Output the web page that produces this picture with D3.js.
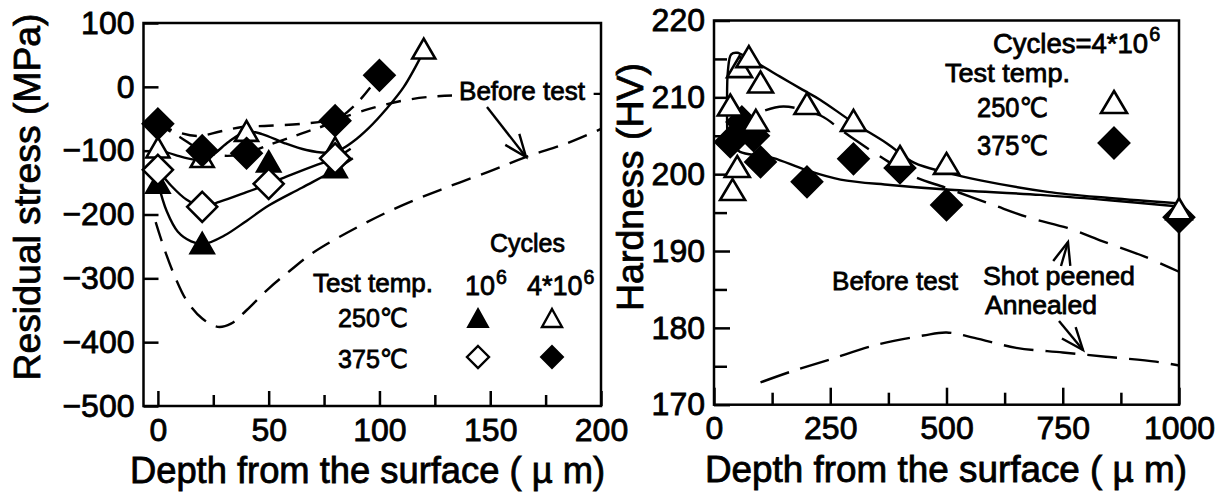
<!DOCTYPE html>
<html>
<head>
<meta charset="utf-8">
<script src="https://cdn.jsdelivr.net/npm/d3@7"></script>
<style>
  body { margin: 0; background: #fff; }
  svg text { font-family: "Liberation Sans", "DejaVu Sans", Arial, sans-serif; fill: #000; }
</style>
</head>
<body>
<svg id="chart" width="1229" height="492"></svg>
<script>
// ---- data ----
// left panel: residual stress (MPa) vs depth (um)
const stressTicks = [100, 0, -100, -200, -300, -400, -500];
const depthTicksL = [0, 50, 100, 150, 200];
const depthMinorL = [25, 75, 125, 175];

const tri250_1e6 = [[0, -150], [20, -245], [50, -117], [80, -126]];
const tri250_4e6 = [[0, -95], [20, -110], [40, -69], [80, -95], [120, 60]];
const dia375_1e6 = [[0, -130], [20, -188], [50, -152], [80, -112]];
const dia375_4e6 = [[0, -58], [20, -100], [40, -104], [80, -53], [100, 18]];

// fitted curves
const fitTri1e6 = [[0, -150], [4, -195], [9, -227], [15, -242], [21, -246], [30, -233], [40, -210], [50, -186], [65, -158], [80, -130], [88, -112]];
const fitTri4e6 = [[0, -97], [8, -107], [17, -114], [24, -108], [32, -86], [40, -70], [47, -74], [57, -88], [67, -99], [76, -103], [82, -99], [88, -86], [95, -65], [103, -35], [111, 0], [120, 56]];
const fitDia1e6 = [[0, -130], [6, -155], [13, -177], [20, -188], [28, -180], [40, -165], [50, -152], [60, -138], [72, -122], [80, -112], [87, -97]];
const fitDia4e6 = [[0, -58], [10, -79], [20, -100], [30, -108], [40, -104], [50, -91], [65, -73], [80, -53], [90, -25], [100, 18]];
const fitUpper = [[0, -58], [8, -70], [18, -77], [28, -70], [38, -63], [50, -61], [65, -58], [80, -51], [95, -35], [110, -22], [125, -15], [160, -12], [200, -11]];
const beforeL = [[-1, -212], [3, -255], [8, -300], [13, -335], [20, -363], [27, -376], [33, -371], [40, -350], [50, -316], [60, -287], [70, -260], [90, -220], [110, -186], [130, -158], [150, -132], [166, -110], [185, -88], [200, -66]];

// right panel: hardness (HV) vs depth (um), cycles = 4*10^6
const hardTicks = [170, 180, 190, 200, 210, 220];
const hardMinor = [175, 185, 195, 205, 215];
const depthTicksR = [0, 250, 500, 750, 1000];
const depthMinorR = [125, 375, 625, 875];

const hardTri250 = [[35, 209], [40, 198], [50, 201], [55, 214], [75, 215.3], [90, 207], [100, 212], [200, 209.2], [300, 207], [400, 202.3], [500, 201.4], [1000, 195.5]];
const hardDia375 = [[35, 204.2], [60, 206.8], [85, 205], [100, 201.6], [200, 199], [300, 202], [400, 200.8], [500, 196], [1000, 194.4]];

const fitR250 = [[29, 204], [28, 209], [30, 213.5], [37, 215.6], [50, 215.8], [75, 215], [100, 214.2], [142, 212.7], [190, 211], [228, 209.7], [300, 206.7], [372, 204], [430, 201.5], [500, 200.2], [573, 199.2], [717, 197.7], [850, 196.9], [1000, 196.2]];
const fitR375 = [[25, 204.8], [40, 203.8], [56, 202.9], [100, 202.4], [128, 202.1], [200, 200.5], [272, 199.3], [379, 198.6], [500, 198], [702, 197.3], [850, 196.6], [1000, 195.8]];
const shotPeened = [[110, 208.3], [150, 208.8], [230, 207.6], [270, 205.9], [300, 204.6], [360, 202.2], [430, 199.7], [500, 198.2], [600, 196], [680, 194.3], [760, 193], [830, 191.4], [925, 189.3], [1000, 187.3]];
const beforeR = [[100, 172.9], [170, 174.4], [250, 175.9], [350, 177.8], [450, 179], [500, 179.4], [560, 178.7], [650, 177.4], [750, 176.8], [850, 176.2], [950, 175.6], [1000, 175.1]];

// ---- drawing ----
const svg = d3.select('#chart');

const xL = d3.scaleLinear().domain([-6.5, 200]).range([143.5, 601]);
const yL = d3.scaleLinear().domain([-500, 100]).range([406, 23]);
const xR = d3.scaleLinear().domain([0, 1000]).range([714, 1179]);
const yR = d3.scaleLinear().domain([170, 220]).range([404.7, 20.5]);

const FONT = '"Liberation Sans", "DejaVu Sans", Arial, sans-serif';
const TXT_STROKE = 0.8;

function styleAxis(g, size) {
  g.attr('font-family', FONT).attr('font-size', size);
  g.select('.domain').remove();
  g.selectAll('line').attr('stroke', '#000').attr('stroke-width', 2.5);
  g.selectAll('text').attr('fill', '#000').attr('stroke', '#000').attr('stroke-width', TXT_STROKE);
}

function drawAxes(x, y, xMaj, xMin, xMajLen, xMinLen, yMaj, yMin, yMajLen, yMinLen, yFmt) {
  const gx = svg.append('g').attr('transform', `translate(0,${y.range()[0]})`);
  gx.call(d3.axisBottom(x).tickValues(xMaj).tickSizeInner(-xMajLen).tickSizeOuter(0).tickPadding(12).tickFormat(d3.format('d')));
  styleAxis(gx, 32);
  const gxm = svg.append('g').attr('transform', `translate(0,${y.range()[0]})`);
  gxm.call(d3.axisBottom(x).tickValues(xMin).tickSizeInner(-xMinLen).tickSizeOuter(0).tickFormat(''));
  styleAxis(gxm, 32);

  const gy = svg.append('g').attr('transform', `translate(${x.range()[0]},0)`);
  gy.call(d3.axisLeft(y).tickValues(yMaj).tickSizeInner(-yMajLen).tickSizeOuter(0).tickPadding(9).tickFormat(yFmt));
  styleAxis(gy, 32);
  if (yMin.length) {
    const gym = svg.append('g').attr('transform', `translate(${x.range()[0]},0)`);
    gym.call(d3.axisLeft(y).tickValues(yMin).tickSizeInner(-yMinLen).tickSizeOuter(0).tickFormat(''));
    styleAxis(gym, 32);
  }

  svg.append('rect')
    .attr('x', x.range()[0]).attr('y', y.range()[1])
    .attr('width', x.range()[1] - x.range()[0])
    .attr('height', y.range()[0] - y.range()[1])
    .attr('fill', 'none').attr('stroke', '#000').attr('stroke-width', 2.5);
}

drawAxes(xL, yL, depthTicksL, depthMinorL, 15, 11, stressTicks, [], 15, 0, d3.format('d'));
drawAxes(xR, yR, depthTicksR, depthMinorR, 17, 12, hardTicks, hardMinor, 16, 13, d3.format('d'));

function curve(x, y, pts, dash, width) {
  const line = d3.line()
    .x(d => x(d[0])).y(d => y(d[1]))
    .curve(d3.curveCatmullRom.alpha(0.5));
  svg.append('path')
    .attr('d', line(pts))
    .attr('fill', 'none').attr('stroke', '#000')
    .attr('stroke-width', width || 2.4)
    .attr('stroke-dasharray', dash || null);
}

// left curves
curve(xL, yL, beforeL, '20,11', 2.4);
curve(xL, yL, fitUpper, '15,11', 2.4);
curve(xL, yL, fitDia4e6, '15,10', 2.4);
curve(xL, yL, fitTri1e6);
curve(xL, yL, fitTri4e6);
curve(xL, yL, fitDia1e6);

// right curves
curve(xR, yR, beforeR, '30,12', 2.4);
curve(xR, yR, shotPeened, '30,13', 2.4);
curve(xR, yR, fitR250);
curve(xR, yR, fitR375);

function triPath(w, h) {
  return `M0,${-h / 2}L${w / 2},${h / 2}L${-w / 2},${h / 2}Z`;
}
function diaPath(r) {
  return `M0,${-r}L${r},0L0,${r}L${-r},0Z`;
}

function markers(x, y, pts, shape, filled) {
  svg.append('g').selectAll('path')
    .data(pts).enter().append('path')
    .attr('d', shape)
    .attr('transform', d => `translate(${x(d[0])},${y(d[1])})`)
    .attr('fill', filled ? '#000' : '#fff')
    .attr('stroke', '#000')
    .attr('stroke-width', 2.6)
    .attr('stroke-linejoin', 'miter');
}

markers(xL, yL, tri250_1e6, triPath(23, 20), true);
markers(xL, yL, tri250_4e6, triPath(23, 20), false);
markers(xL, yL, dia375_1e6, diaPath(15), false);
markers(xL, yL, dia375_4e6, diaPath(15), true);

markers(xR, yR, hardDia375, diaPath(15), true);
markers(xR, yR, hardTri250, triPath(25, 21), false);

// ---- text ----
function label(x, y, str, size, opts) {
  opts = opts || {};
  const t = svg.append('text')
    .attr('x', x).attr('y', y)
    .attr('font-size', size)
    .attr('text-anchor', opts.anchor || 'start')
    .attr('stroke', '#000').attr('stroke-width', TXT_STROKE)
    .text(str);
  if (opts.len) t.attr('textLength', opts.len).attr('lengthAdjust', 'spacingAndGlyphs');
  if (opts.rotate) t.attr('transform', `rotate(-90,${x},${y})`);
  return t;
}

function withSup(x, y, base, sup, size, anchor) {
  const t = svg.append('text')
    .attr('x', x).attr('y', y)
    .attr('font-size', size)
    .attr('text-anchor', anchor || 'start')
    .attr('stroke', '#000').attr('stroke-width', TXT_STROKE);
  t.append('tspan').text(base);
  t.append('tspan').attr('font-size', size * 0.72).attr('dy', -size * 0.42).attr('dx', 1).text(sup);
  return t;
}

// axis titles
label(40, 197, 'Residual stress (MPa)', 37, { anchor: 'middle', rotate: true, len: 367 });
label(643, 187, 'Hardness (HV)', 37, { anchor: 'middle', rotate: true, len: 248 });
label(130, 483, 'Depth from the surface ( \u00b5 m)', 36, { len: 475 });
label(705, 482, 'Depth from the surface ( \u00b5 m)', 36, { len: 482 });

// left legend
label(490, 252, 'Cycles', 26, { len: 75 });
label(313, 292, 'Test temp.', 26, { len: 120 });
withSup(465, 295, '10', '6', 27);
withSup(527, 295, '4*10', '6', 27);
label(338, 327, '250\u2103', 26, { len: 70 });
label(338, 368, '375\u2103', 26, { len: 70 });
svg.append('path').attr('d', triPath(20, 18)).attr('transform', 'translate(478,318)')
  .attr('fill', '#000').attr('stroke', '#000').attr('stroke-width', 2);
svg.append('path').attr('d', triPath(20, 18)).attr('transform', 'translate(552,318)')
  .attr('fill', '#fff').attr('stroke', '#000').attr('stroke-width', 2.4);
svg.append('path').attr('d', diaPath(11)).attr('transform', 'translate(478,357)')
  .attr('fill', '#fff').attr('stroke', '#000').attr('stroke-width', 2.4);
svg.append('path').attr('d', diaPath(11)).attr('transform', 'translate(552,357)')
  .attr('fill', '#000').attr('stroke', '#000').attr('stroke-width', 2);

// right legend
withSup(993, 53, 'Cycles=4*10', '6', 27.5);
label(945, 82, 'Test temp.', 26.5, { len: 125 });
label(977, 117, '250\u2103', 27, { len: 71 });
label(977, 155, '375\u2103', 27, { len: 71 });
svg.append('path').attr('d', triPath(26, 22)).attr('transform', 'translate(1114,102)')
  .attr('fill', '#fff').attr('stroke', '#000').attr('stroke-width', 2.6);
svg.append('path').attr('d', diaPath(15.5)).attr('transform', 'translate(1114,143)')
  .attr('fill', '#000').attr('stroke', '#000').attr('stroke-width', 2);

// annotations (white box behind the left one hides the dashed line passing under it)
svg.append('rect').attr('x', 452).attr('y', 76).attr('width', 140).attr('height', 30).attr('fill', '#fff');
label(459, 100, 'Before test', 26, { len: 126 });
label(832, 290, 'Before test', 26, { len: 126 });
label(983, 285, 'Shot peened', 26, { len: 152 });
label(985, 314, 'Annealed', 26, { len: 112 });

function arrow(x1, y1, x2, y2) {
  const a = Math.atan2(y1 - y2, x1 - x2);
  const L = 24, s = 0.38;
  const p = [
    [x2 + L * Math.cos(a - s), y2 + L * Math.sin(a - s)],
    [x2, y2],
    [x2 + L * Math.cos(a + s), y2 + L * Math.sin(a + s)]
  ];
  svg.append('line').attr('x1', x1).attr('y1', y1).attr('x2', x2).attr('y2', y2)
    .attr('stroke', '#000').attr('stroke-width', 2.4);
  svg.append('path').attr('d', d3.line()(p))
    .attr('fill', 'none').attr('stroke', '#000').attr('stroke-width', 2.4);
}
arrow(487, 107, 526, 157);
arrow(1061, 266, 1068, 242);
arrow(1059, 321, 1083, 350);
</script>
</body>
</html>
